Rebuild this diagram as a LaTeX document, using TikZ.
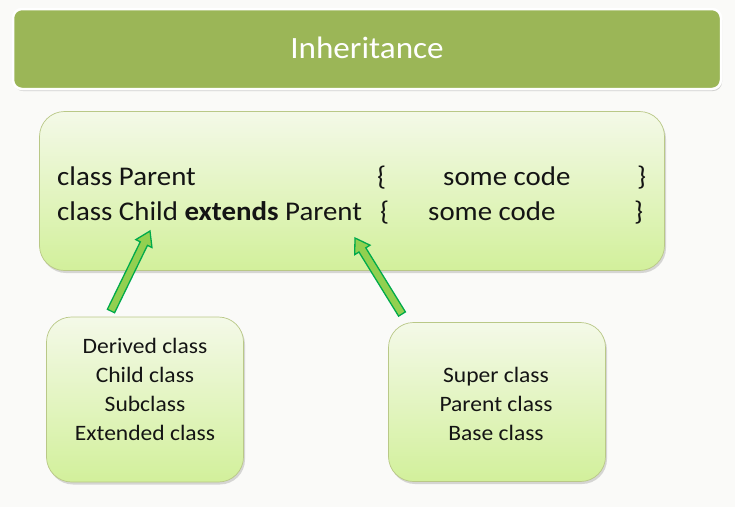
\documentclass[tikz,border=0pt]{standalone}
\usepackage{fontspec}
\setmainfont[FakeStretch=1.07]{Carlito}
\usetikzlibrary{shadows,calc}
\definecolor{bgc}{RGB}{250,250,248}
\definecolor{titlegreen}{RGB}{155,182,87}
\definecolor{boxtop}{RGB}{244,249,232}
\definecolor{boxbot}{RGB}{210,240,155}
\definecolor{boxline}{RGB}{185,200,135}
\definecolor{arrowfill}{RGB}{146,208,80}
\definecolor{arrowline}{RGB}{0,170,75}
\definecolor{txt}{RGB}{20,20,20}
\tikzset{
  titlebox/.style={rectangle, rounded corners=9pt, fill=titlegreen, draw=white, line width=2.5pt, inner sep=0pt,
    drop shadow={opacity=0.35, shadow xshift=1pt, shadow yshift=-2pt}},
  greenbox/.style={rectangle, rounded corners=25pt, top color=boxtop, bottom color=boxbot, draw=boxline, line width=0.7pt, inner sep=0pt,
    drop shadow={opacity=0.3, shadow xshift=1.5pt, shadow yshift=-2.5pt}},
  codetext/.style={anchor=base west, inner sep=0pt, font=\fontsize{27}{31}\selectfont, text=txt},
  labeltext/.style={anchor=base, inner sep=0pt, font=\fontsize{22}{26}\selectfont, text=txt},
  arrowstyle/.style={fill=arrowfill, draw=arrowline, line width=1.3pt, line join=miter}
}
\newcommand{\blockarrow}[3]{%
  \coordinate (#3h) at ($(#2)!14pt!(#1)$);
  \draw[arrowstyle] ($(#1)!4pt!90:(#2)$) -- ($(#3h)!4pt!90:(#2)$) -- ($(#3h)!9pt!90:(#2)$) -- (#2)
    -- ($(#3h)!9pt!-90:(#2)$) -- ($(#3h)!4pt!-90:(#2)$) -- ($(#1)!4pt!-90:(#2)$) -- cycle;}
\begin{document}
\begin{tikzpicture}[x=1pt,y=-1pt]
\fill[bgc] (0,0) rectangle (735,507);
\useasboundingbox (0,0) rectangle (735,507);

% title bar
\node[titlebox, minimum width=708pt, minimum height=80pt] (title) at (367,49) {};
\node[anchor=base, inner sep=0pt, text=white, font=\fontsize{31}{36}\selectfont] (titletext) at (367,58) {Inheritance};

% main code box
\node[greenbox, minimum width=625pt, minimum height=159pt] (code) at (352,191) {};
\node[codetext] (l1a) at (57,185) {class Parent};
\node[codetext] (l1b) at (377,185) {\{};
\node[codetext] (l1c) at (443,185) {some code};
\node[codetext] (l1d) at (637,185) {\}};
\node[codetext] (l2a) at (57,220) {class Child \textbf{extends} Parent};
\node[codetext] (l2b) at (380,220) {\{};
\node[codetext] (l2c) at (428,220) {some code};
\node[codetext] (l2d) at (634,220) {\}};

% lower boxes
\node[greenbox, minimum width=197pt, minimum height=165pt] (child) at (145,399.5) {};
\node[labeltext] (c1) at (145,353) {Derived class};
\node[labeltext] (c2) at (145,382) {Child class};
\node[labeltext] (c3) at (145,411) {Subclass};
\node[labeltext] (c4) at (145,440) {Extended class};

\node[greenbox, minimum width=217pt, minimum height=159pt] (parent) at (497,402) {};
\node[labeltext] (p1) at (496,382) {Super class};
\node[labeltext] (p2) at (496,411) {Parent class};
\node[labeltext] (p3) at (496,440) {Base class};

% arrows
\coordinate (a1tail) at (111,311);
\coordinate (a1tip) at (150,231);
\coordinate (a2tail) at (402,314);
\coordinate (a2tip) at (355,238);
\blockarrow{a1tail}{a1tip}{aone}
\blockarrow{a2tail}{a2tip}{atwo}
\end{tikzpicture}
\end{document}
